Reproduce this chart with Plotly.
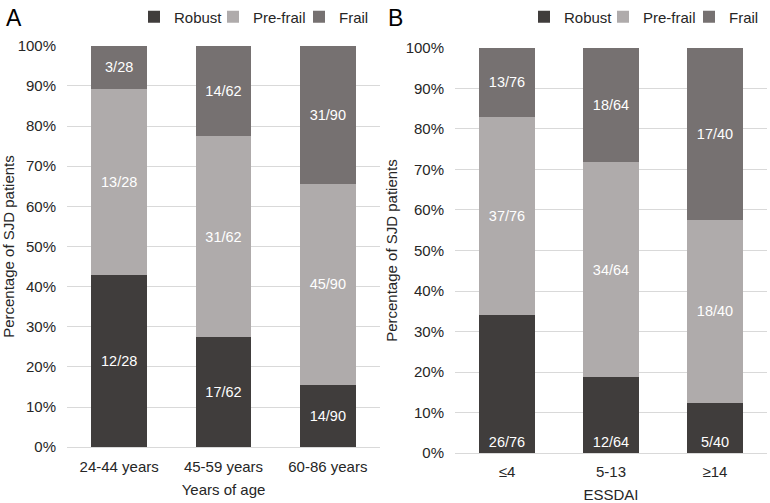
import plotly.graph_objects as go

# ---- data ----
cats_a = ["24-44 years", "45-59 years", "60-86 years"]
robust_a = [12, 17, 14]
prefrail_a = [13, 31, 45]
frail_a = [3, 14, 31]

cats_b = ["≤4", "5-13", "≥14"]
robust_b = [26, 12, 5]
prefrail_b = [37, 34, 18]
frail_b = [13, 18, 17]

series_names = ["Robust", "Pre-frail", "Frail"]
colors = ["#403d3c", "#afabab", "#767171"]
legend_widths = [34, 41, None]

FONT = "Liberation Sans, Arial, sans-serif"
TXT = "#262626"
W, H = 770, 503

fig = go.Figure()


def add_panel(cats, series, xa, ya, legend, anchors):
    totals = [sum(v) for v in zip(*series)]
    for name, vals, col, anc, lw in zip(series_names, series, colors, anchors, legend_widths):
        pct = [v / t * 100 for v, t in zip(vals, totals)]
        kw = {}
        if lw:
            kw["legendwidth"] = lw
        fig.add_trace(go.Bar(
            x=cats, y=pct, name=name,
            text=[f"{v}/{t}" for v, t in zip(vals, totals)],
            textposition="inside", insidetextanchor=anc, textangle=0,
            constraintext="none",
            textfont=dict(color="white", size=14.5, family=FONT),
            marker=dict(color=col, line=dict(width=0)),
            xaxis=xa, yaxis=ya, legend=legend, hoverinfo="skip", **kw,
        ))


add_panel(cats_a, [robust_a, prefrail_a, frail_a], "x", "y", "legend",
          ["middle", "middle", "middle"])
add_panel(cats_b, [robust_b, prefrail_b, frail_b], "x2", "y2", "legend2",
          ["start", "middle", "middle"])

xcommon = dict(showline=False, ticks="", showgrid=False, zeroline=False,
               tickfont=dict(size=15, color=TXT, family=FONT), automargin=False)
ycommon = dict(range=[0, 100], dtick=10, ticksuffix="%", showgrid=True,
               gridcolor="#d9d9d9", gridwidth=1, zeroline=True,
               zerolinecolor="#d9d9d9", zerolinewidth=1, showline=False,
               ticks="", ticklabelstandoff=10,
               tickfont=dict(size=15, color=TXT, family=FONT), automargin=False)

legcommon = dict(orientation="h", font=dict(size=15, color=TXT, family=FONT),
                 bgcolor="rgba(0,0,0,0)", yanchor="middle", xanchor="right",
                 traceorder="normal", itemwidth=30)

fig.update_layout(
    width=W, height=H,
    margin=dict(l=0, r=0, t=0, b=0),
    paper_bgcolor="white", plot_bgcolor="white",
    barmode="stack", bargap=0.465,
    font=dict(family=FONT, color=TXT),
    xaxis=dict(domain=[67 / W, 380 / W], anchor="y", ticklabelstandoff=9,
               title=dict(text="Years of age", standoff=10,
                          font=dict(size=15, color=TXT, family=FONT)),
               **xcommon),
    yaxis=dict(domain=[56 / H, 459 / H], anchor="x",
               title=dict(text="Percentage of SJD patients", standoff=4,
                          font=dict(size=15, color=TXT, family=FONT)),
               **ycommon),
    xaxis2=dict(domain=[455 / W, 767 / W], anchor="y2", ticklabelstandoff=8,
                title=dict(text="ESSDAI", standoff=10,
                           font=dict(size=15, color=TXT, family=FONT)),
                **xcommon),
    yaxis2=dict(domain=[50 / H, 457 / H], anchor="x2",
                title=dict(text="Percentage of SJD patients", standoff=4,
                           font=dict(size=15, color=TXT, family=FONT)),
                **ycommon),
    legend=dict(x=374 / W, y=(H - 15) / H, **legcommon),
    legend2=dict(x=764 / W, y=(H - 15) / H, **legcommon),
    showlegend=True,
    annotations=[
        dict(text="A", x=4 / W, y=(H - 16) / H, xref="paper", yref="paper",
             xanchor="left", yanchor="middle", showarrow=False,
             font=dict(size=23, color="black", family=FONT)),
        dict(text="B", x=386 / W, y=(H - 16) / H, xref="paper", yref="paper",
             xanchor="left", yanchor="middle", showarrow=False,
             font=dict(size=23, color="black", family=FONT)),
    ],
)

fig.write_html("out.html")
